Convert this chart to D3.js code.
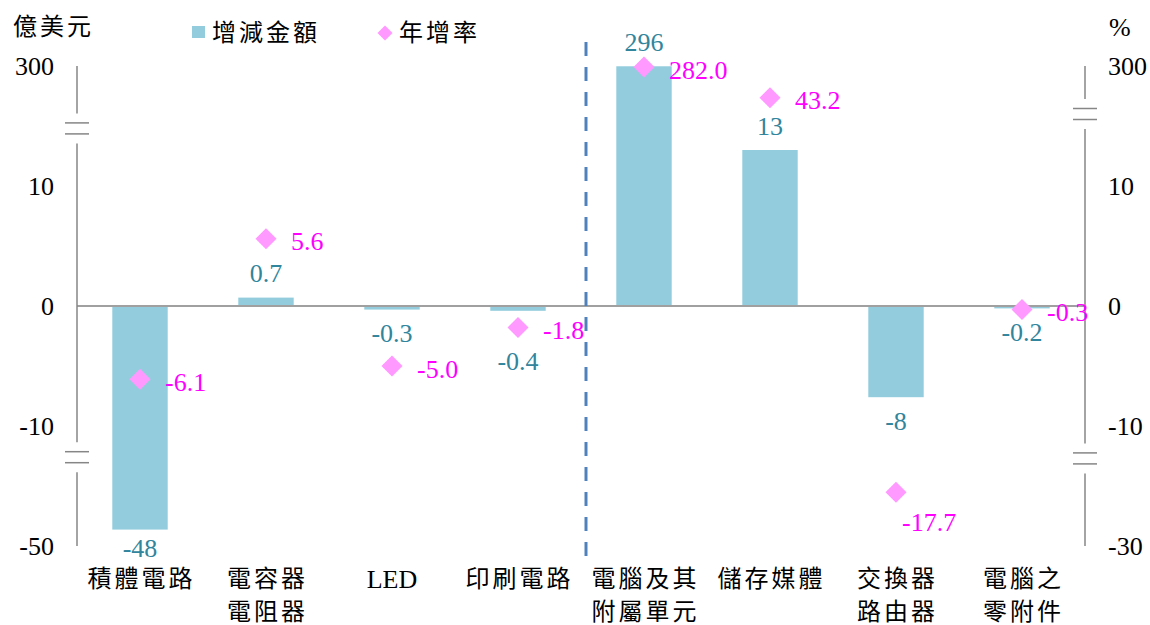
<!DOCTYPE html>
<html>
<head>
<meta charset="utf-8">
<script src="https://cdn.jsdelivr.net/npm/d3@7"></script>
<style>
  body { margin: 0; background: #fff; }
  text { font-family: "Liberation Serif", "Noto Sans CJK TC", serif; }
</style>
</head>
<body>
<div id="chart"></div>
<script>
// categories (two-line labels split on \n)
const categories = ["積體電路", "電容器\n電阻器", "LED", "印刷電路", "電腦及其\n附屬單元", "儲存媒體", "交換器\n路由器", "電腦之\n零附件"];
// 增減金額 (億美元)
const changeValues = [-48, 0.7, -0.3, -0.4, 296, 13, -7.6, -0.2];
// 年增率 (%)
const growthRates = [-6.1, 5.6, -5.0, -1.8, 282.0, 43.2, -17.7, -0.3];
const leftTicks = [300, 10, 0, -10, -50];
const rightTicks = [300, 10, 0, -10, -30];

const width = 1150, height = 625;
const plotLeft = 77, plotRight = 1085, plotTop = 66, plotBottom = 546;

const barColor = "#93CDDD", barLabelColor = "#31859C";
const rateColor = "#FF99FF", rateLabelColor = "#FF00FF";

// broken axis: linear core around zero, compressed segments beyond the breaks
function brokenScale(lo, bLo, bHi, hi, lowerSeg) {
    const core = d3.scaleLinear().domain([-20, 20]).range([plotBottom, plotTop]);
    const upper = d3.scaleLog().domain([bHi, hi]).range([core(bHi), plotTop]);
    const lower = (lowerSeg || d3.scaleLog()).domain([bLo, lo]).range([core(bLo), plotBottom]);
    const s = v => v > bHi ? upper(v) : v < bLo ? lower(v) : core(v);
    s.domain = () => [lo, hi];
    s.range = () => [plotBottom, plotTop];
    s.copy = () => s;
    s.breaks = [core(bHi), core(bLo)];
    return s;
}

const yLeft = brokenScale(-50, -12.6, 14.8, 300, d3.scalePow().exponent(5));
const yRight = brokenScale(-30, -12.7, 16, 300);

const x = d3.scaleBand().domain(categories).range([plotLeft, plotRight]);
const barW = x.bandwidth() * 0.44;
const cx = c => x(c) + x.bandwidth() / 2;

const svg = d3.select("#chart").append("svg")
    .attr("width", width)
    .attr("height", height);

const rows = categories.map((c, i) => ({ cat: c, value: changeValues[i], rate: growthRates[i] }));

// bars
svg.append("g")
    .selectAll("rect")
    .data(rows)
    .join("rect")
    .attr("x", d => cx(d.cat) - barW / 2)
    .attr("width", barW)
    .attr("y", d => Math.min(yLeft(d.value), yLeft(0)))
    .attr("height", d => Math.abs(yLeft(d.value) - yLeft(0)))
    .attr("fill", barColor);

// zero line
svg.append("line")
    .attr("x1", plotLeft).attr("x2", plotRight)
    .attr("y1", yLeft(0)).attr("y2", yLeft(0))
    .attr("stroke", "#A0A0A0")
    .attr("stroke-width", 2);

// axes with breaks
function drawAxis(scale, xPos, ticks, axisFn) {
    const [b1, b2] = scale.breaks;
    const gap = 15;
    const segs = [[plotTop, b1 - gap], [b1 + gap, b2 - gap], [b2 + gap, plotBottom]];
    const g = svg.append("g");
    g.selectAll(".seg")
        .data(segs)
        .join("line")
        .attr("x1", xPos).attr("x2", xPos)
        .attr("y1", d => d[0]).attr("y2", d => d[1])
        .attr("stroke", "#868686")
        .attr("stroke-width", 1.5);
    g.selectAll(".brk")
        .data([b1 - 5.5, b1 + 5.5, b2 - 5.5, b2 + 5.5])
        .join("line")
        .attr("x1", xPos - 12).attr("x2", xPos + 12)
        .attr("y1", d => d).attr("y2", d => d)
        .attr("stroke", "#868686")
        .attr("stroke-width", 1.5);

    const ax = svg.append("g")
        .attr("transform", `translate(${xPos},0)`)
        .call(axisFn(scale).tickValues(ticks).tickFormat(d => String(d)).tickSize(0).tickPadding(23));
    ax.select(".domain").remove();
    ax.selectAll("text")
        .attr("font-family", "Liberation Serif")
        .attr("font-size", 26)
        .attr("fill", "#000")
        .attr("dy", "0.34em");
}
drawAxis(yLeft, plotLeft, leftTicks, d3.axisLeft);
drawAxis(yRight, plotRight, rightTicks, d3.axisRight);

// divider between groups
const divX = x(categories[4]) + 5;
svg.append("line")
    .attr("x1", divX).attr("x2", divX)
    .attr("y1", 42).attr("y2", 558)
    .attr("stroke", "#4F81BD")
    .attr("stroke-width", 3)
    .attr("stroke-dasharray", "14 11");

// growth rate diamonds
const diamond = d3.symbol().type(d3.symbolSquare).size(220);
svg.append("g")
    .selectAll("path")
    .data(rows)
    .join("path")
    .attr("d", diamond)
    .attr("transform", d => `translate(${cx(d.cat)},${yRight(d.rate)}) rotate(45)`)
    .attr("fill", rateColor);

// bar value labels
const fmtValue = v => Math.abs(v) >= 1 ? v.toFixed(0) : v.toFixed(1);
function barLabelY(d) {
    const top = yLeft(d.value);
    if (d.value >= 0) return top - 24;
    let y = Math.min(top + 24, plotBottom + 2);
    const dy = yRight(d.rate);
    if (Math.abs(dy - y) < 22) y = dy + 34;
    return y;
}
svg.append("g")
    .selectAll("text")
    .data(rows)
    .join("text")
    .attr("x", d => cx(d.cat))
    .attr("y", barLabelY)
    .attr("text-anchor", "middle")
    .attr("dominant-baseline", "central")
    .attr("font-size", 26)
    .attr("fill", barLabelColor)
    .text(d => fmtValue(d.value));

// growth rate labels (large negative one sits below its marker)
svg.append("g")
    .selectAll("text")
    .data(rows)
    .join("text")
    .attr("x", d => cx(d.cat) + (d.rate < -10 ? 6 : 25))
    .attr("y", d => yRight(d.rate) + (d.rate < -10 ? 30 : 3))
    .attr("dominant-baseline", "central")
    .attr("font-size", 26)
    .attr("fill", rateLabelColor)
    .text(d => d.rate.toFixed(1));

// category labels
const isCJK = s => /[\u4e00-\u9fff]/.test(s);
svg.append("g")
    .selectAll("text")
    .data(categories)
    .join("text")
    .attr("text-anchor", "middle")
    .attr("font-size", d => isCJK(d) ? 24 : 26)
    .attr("letter-spacing", d => isCJK(d) ? 3 : 0)
    .attr("fill", "#000")
    .each(function (d) {
        const lines = d.split("\n");
        d3.select(this).selectAll("tspan")
            .data(lines)
            .join("tspan")
            .attr("x", cx(d) + (isCJK(d) ? 1.5 : 0))
            .attr("y", (l, i) => 579 + i * 33)
            .attr("dominant-baseline", "central")
            .text(l => l);
    });

// units
svg.append("text")
    .attr("x", 13).attr("y", 27)
    .attr("dominant-baseline", "central")
    .attr("font-size", 24)
    .attr("letter-spacing", 3)
    .text("億美元");
svg.append("text")
    .attr("x", 1109).attr("y", 27)
    .attr("dominant-baseline", "central")
    .attr("font-size", 26)
    .text("%");

// legend
const legend = svg.append("g");
legend.append("rect")
    .attr("x", 192).attr("y", 26)
    .attr("width", 13).attr("height", 12)
    .attr("fill", barColor);
legend.append("text")
    .attr("x", 212).attr("y", 33)
    .attr("dominant-baseline", "central")
    .attr("font-size", 24)
    .attr("letter-spacing", 3)
    .text("增減金額");
legend.append("path")
    .attr("d", d3.symbol().type(d3.symbolSquare).size(112))
    .attr("transform", "translate(385,33) rotate(45)")
    .attr("fill", rateColor);
legend.append("text")
    .attr("x", 399).attr("y", 33)
    .attr("dominant-baseline", "central")
    .attr("font-size", 24)
    .attr("letter-spacing", 3)
    .text("年增率");
</script>
</body>
</html>
